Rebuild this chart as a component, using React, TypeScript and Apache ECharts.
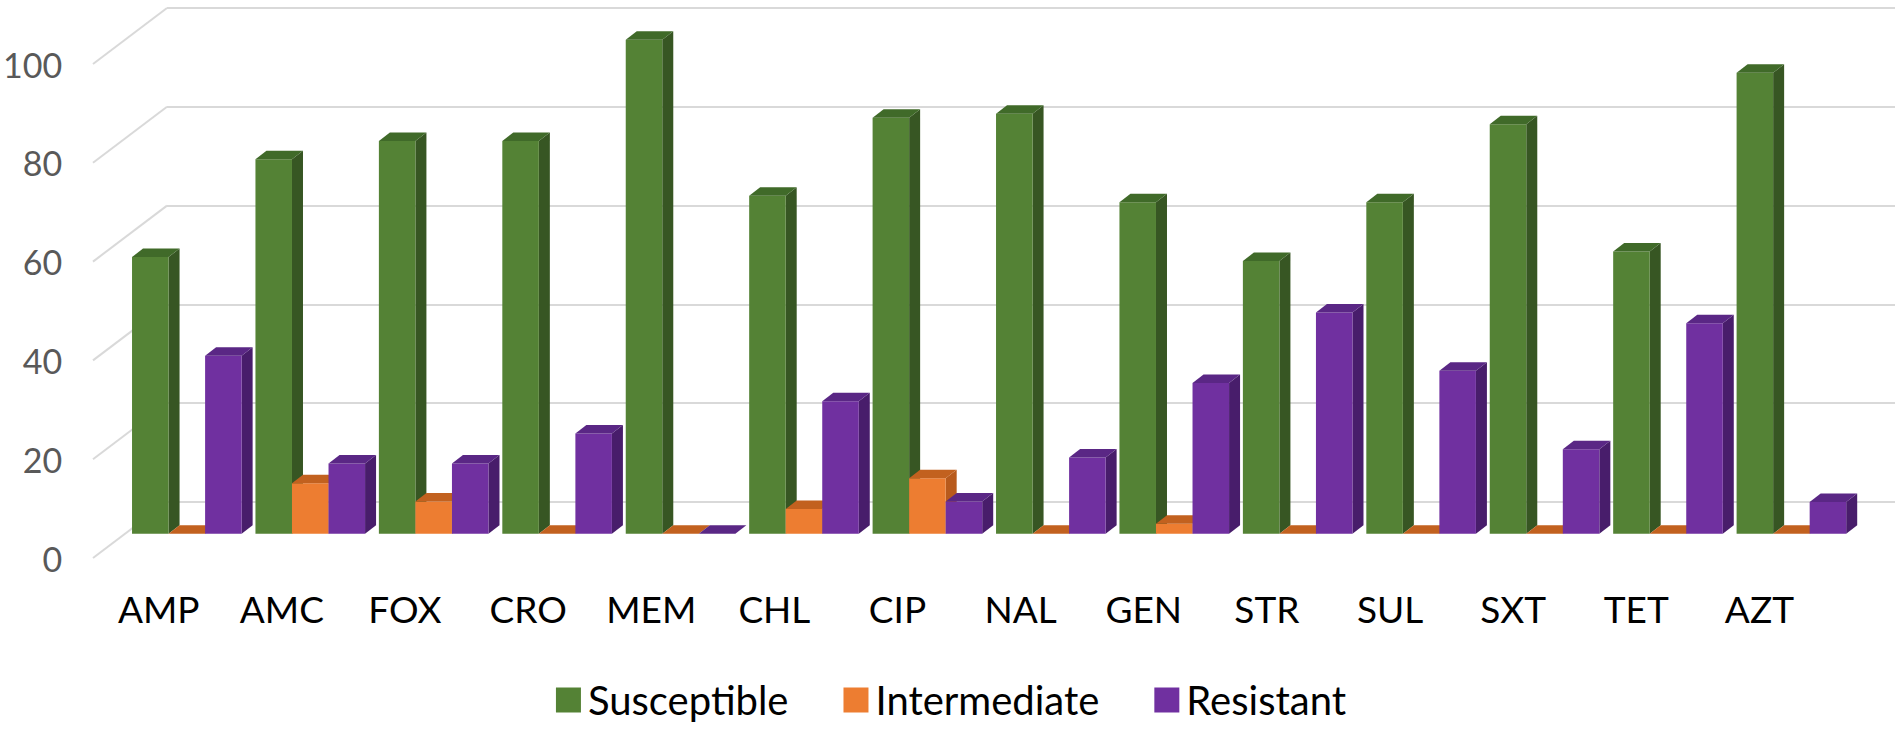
import React, { useEffect, useRef } from 'react';
import * as echarts from 'echarts';

const categories = ['AMP', 'AMC', 'FOX', 'CRO', 'MEM', 'CHL', 'CIP', 'NAL', 'GEN', 'STR', 'SUL', 'SXT', 'TET', 'AZT'];
const susceptible = [56, 75.8, 79.5, 79.5, 100, 68.4, 84.2, 85, 67.1, 55.2, 67.1, 82.9, 57.1, 93.3];
const intermediate = [0, 10.2, 6.5, 0, 0, 5, 11.2, 0, 2, 0, 0, 0, 0, 0];
const resistant = [36, 14.2, 14.2, 20.3, 0, 26.8, 6.5, 15.4, 30.5, 44.8, 33, 17.1, 42.6, 6.4];
const yTicks = [0, 20, 40, 60, 80, 100];
const seriesNames = ['Susceptible', 'Intermediate', 'Resistant'];

const palette = [
  { front: '#548235', side: '#375623', top: '#406a29' },
  { front: '#ED7D31', side: '#b85a1c', top: '#c2611f' },
  { front: '#7030A0', side: '#481d6b', top: '#5a2785' },
];

const FONT = 'Lato, "Open Sans", sans-serif';
// oblique projection parameters (px)
const FRONT = { left: 93, top: 64, width: 1728, height: 494 };
const DEPTH = [74, -56];
const BAR_PLANE = 0.434;
const BAR_THICK = [11, -8.5];
const BAR_FRAC = 0.296;

export default function App() {
  const ref = useRef<HTMLDivElement>(null);
  useEffect(() => {
    document.body.style.margin = '0';
    if (!ref.current) return;
    const chart = echarts.init(ref.current, null, { renderer: 'svg' });
    const data = [susceptible, intermediate, resistant];
    const barSeries = data.map((vals, k) => ({
      type: 'custom',
      name: seriesNames[k],
      xAxisIndex: 2,
      yAxisIndex: 2,
      itemStyle: { color: palette[k].front },
      data: vals.map((v, i) => [i, v]),
      renderItem: (params: any, api: any) => {
        const idx = api.value(0);
        const v = api.value(1);
        const top = api.coord([idx, v]);
        const base = api.coord([idx, 0]);
        const band = api.size([1, 0])[0];
        const bw = band * BAR_FRAC;
        const x0 = top[0] + (k - 1.5) * bw;
        const x1 = x0 + bw;
        const yT = top[1];
        const yB = base[1];
        const [dx, dy] = BAR_THICK;
        const c = palette[k];
        return {
          type: 'group',
          children: [
            {
              type: 'polygon',
              shape: { points: [[x1, yT], [x1 + dx, yT + dy], [x1 + dx, yB + dy], [x1, yB]] },
              style: { fill: c.side },
            },
            {
              type: 'rect',
              shape: { x: x0, y: yT, width: bw, height: Math.max(0, yB - yT) },
              style: { fill: c.front },
            },
            {
              type: 'polygon',
              shape: { points: [[x0, yT], [x0 + dx, yT + dy], [x1 + dx, yT + dy], [x1, yT]] },
              style: { fill: c.top },
            },
          ],
        };
      },
    }));

    const option: any = {
      animation: false,
      backgroundColor: '#ffffff',
      grid: [
        { left: FRONT.left, top: FRONT.top, width: FRONT.width, height: FRONT.height },
        { left: FRONT.left + DEPTH[0], top: FRONT.top + DEPTH[1], width: FRONT.width, height: FRONT.height },
        {
          left: FRONT.left + DEPTH[0] * BAR_PLANE,
          top: FRONT.top + DEPTH[1] * BAR_PLANE,
          width: FRONT.width,
          height: FRONT.height,
        },
      ],
      xAxis: [
        {
          gridIndex: 0,
          type: 'category',
          data: categories,
          axisLine: { show: false },
          axisTick: { show: false },
          splitLine: { show: false },
          axisLabel: { color: '#000000', fontSize: 37, fontFamily: FONT, margin: 32 },
        },
        { gridIndex: 1, type: 'value', min: 0, max: 1, show: false },
        { gridIndex: 2, type: 'category', data: categories, show: false },
      ],
      yAxis: [
        {
          gridIndex: 0,
          type: 'value',
          min: 0,
          max: 100,
          interval: 20,
          axisLine: { show: false },
          axisTick: { show: false },
          splitLine: { show: false },
          axisLabel: { color: '#595959', fontSize: 34, fontFamily: FONT, margin: 35 },
        },
        {
          gridIndex: 1,
          type: 'value',
          min: 0,
          max: 100,
          interval: 20,
          axisLine: { show: false },
          axisTick: { show: false },
          axisLabel: { show: false },
          splitLine: { show: true, lineStyle: { color: '#d9d9d9', width: 2 } },
        },
        { gridIndex: 2, type: 'value', min: 0, max: 100, show: false },
      ],
      legend: {
        data: seriesNames,
        left: 'center',
        top: 680,
        icon: 'rect',
        itemWidth: 25,
        itemHeight: 25,
        itemGap: 55,
        padding: 0,
        textStyle: { color: '#000000', fontSize: 40, fontFamily: FONT, padding: [0, 0, 0, 2] },
      },
      series: [
        {
          type: 'custom',
          name: 'sideWall',
          xAxisIndex: 1,
          yAxisIndex: 1,
          silent: true,
          data: yTicks.map((v) => [0, v]),
          renderItem: (params: any, api: any) => {
            const p = api.coord([0, api.value(1)]);
            return {
              type: 'line',
              shape: { x1: p[0] - DEPTH[0], y1: p[1] - DEPTH[1], x2: p[0], y2: p[1] },
              style: { stroke: '#d9d9d9', lineWidth: 2 },
            };
          },
        },
        ...barSeries,
      ],
    };
    chart.setOption(option);
    return () => chart.dispose();
  }, []);
  return <div ref={ref} style={{ width: 1902, height: 729 }} />;
}
